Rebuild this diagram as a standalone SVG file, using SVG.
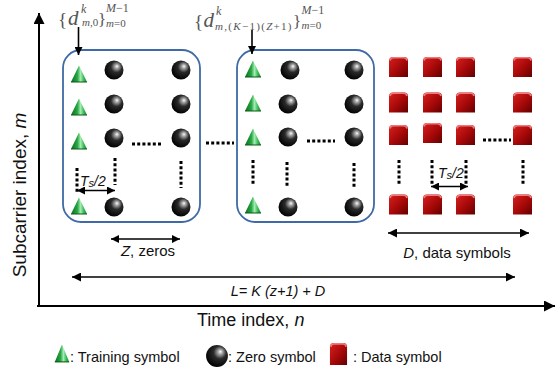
<svg xmlns="http://www.w3.org/2000/svg" xmlns:xlink="http://www.w3.org/1999/xlink" width="555" height="373" viewBox="0 0 555 373">
  <style>
    .sans { font-family: "Liberation Sans", Arial, sans-serif; fill: #111; }
    .math { font-family: "Liberation Serif", "Times New Roman", serif; fill: #555; }
    .it { font-style: italic; }
    .frame { fill: none; stroke: #3f6aa5; stroke-width: 1.8; }
    .dots { stroke: #000; stroke-width: 3; stroke-dasharray: 3 2.2; fill: none; }
    .line { stroke: #000; stroke-width: 1.6; fill: none; }
    .axis { stroke: #000; stroke-width: 2; fill: none; }
  </style>
  <defs>
    <marker id="head" viewBox="0 0 10 10" refX="10" refY="5" markerUnits="userSpaceOnUse" markerWidth="11" markerHeight="9" orient="auto-start-reverse">
      <path d="M0,0 L10,5 L0,10 z" fill="#000"/>
    </marker>
    <marker id="headBig" viewBox="0 0 10 10" refX="10" refY="5" markerUnits="userSpaceOnUse" markerWidth="13" markerHeight="11" orient="auto-start-reverse">
      <path d="M0,0 L10,5 L0,10 z" fill="#000"/>
    </marker>
    <marker id="headSm" viewBox="0 0 10 10" refX="10" refY="5" markerUnits="userSpaceOnUse" markerWidth="9" markerHeight="8" orient="auto-start-reverse">
      <path d="M0,0 L10,5 L0,10 z" fill="#000"/>
    </marker>
    <radialGradient id="sphere" cx="0.6" cy="0.38" r="0.65" fx="0.66" fy="0.3">
      <stop offset="0" stop-color="#ffffff"/>
      <stop offset="0.14" stop-color="#b0b0b0"/>
      <stop offset="0.45" stop-color="#2a2a2a"/>
      <stop offset="1" stop-color="#000"/>
    </radialGradient>
    <linearGradient id="cone" x1="0" y1="0" x2="1" y2="0">
      <stop offset="0" stop-color="#0b6a1e"/>
      <stop offset="0.4" stop-color="#27a843"/>
      <stop offset="0.6" stop-color="#a6ecb4"/>
      <stop offset="0.78" stop-color="#3ec05a"/>
      <stop offset="1" stop-color="#137a27"/>
    </linearGradient>
    <linearGradient id="cube" x1="0" y1="0" x2="1" y2="1">
      <stop offset="0" stop-color="#d82020"/>
      <stop offset="0.55" stop-color="#a50808"/>
      <stop offset="1" stop-color="#640000"/>
    </linearGradient>
    <!-- symbol glyphs, centred on the origin -->
    <g id="ball"><circle r="9.5" fill="url(#sphere)"/></g>
    <g id="tri"><path d="M0,-8.5 L8,8 L-8,8 z" fill="url(#cone)"/><path d="M-8,8 L8,8" stroke="#0a5a18" stroke-width="1"/></g>
    <g id="cubeSym">
      <path d="M-9.5,-6 Q-9.5,-10 -5.5,-10 L5.5,-10 Q9.5,-10 9.5,-6 L9.5,10 L-9.5,10 z" fill="url(#cube)"/>
      <path d="M-8.5,-6.5 Q-8,-9.2 -5,-9.2 L5,-9.2 Q8,-9.2 8.5,-6.5" stroke="#f07a7a" stroke-width="1.6" fill="none"/>
    </g>
  </defs>

  <rect width="555" height="373" fill="#fff"/>

  <!-- axes and labels -->
  <g id="axes">
    <line class="axis" x1="39" y1="306" x2="39" y2="13" marker-end="url(#headBig)"/>
    <line class="axis" x1="37" y1="306" x2="555" y2="306" marker-end="url(#headBig)"/>
    <text class="sans" font-size="19" transform="translate(26,195) rotate(-90)" text-anchor="middle">Subcarrier index,  <tspan class="it">m</tspan></text>
    <text class="sans" font-size="18" x="197" y="326">Time index, <tspan class="it">n</tspan></text>
  </g>

  <!-- first training block -->
  <g id="block1">
    <rect class="frame" x="63" y="50" width="137" height="172" rx="18"/>
    <use href="#tri" x="79" y="74"/>
    <use href="#tri" x="79" y="107"/>
    <use href="#tri" x="79" y="141"/>
    <use href="#tri" x="79" y="206"/>
    <use href="#ball" x="114" y="70"/>
    <use href="#ball" x="181" y="70"/>
    <use href="#ball" x="114" y="104"/>
    <use href="#ball" x="181" y="104"/>
    <use href="#ball" x="114" y="138"/>
    <use href="#ball" x="181" y="138"/>
    <use href="#ball" x="114" y="207"/>
    <use href="#ball" x="181" y="207"/>
    <path class="dots" d="M77,168 V192 M115,158 V185 M181,161 V188"/>
    <path class="dots" d="M132,144 H161"/>
    <text class="sans it" font-size="14" x="80" y="186">T<tspan font-size="11" dy="1">s</tspan><tspan dy="-1">/2</tspan></text>
  </g>

  <path id="gap-dots" class="dots" d="M206,143 H234"/>

  <!-- last training block -->
  <g id="block2">
    <rect class="frame" x="237" y="50" width="137" height="172" rx="18"/>
    <use href="#tri" x="253" y="69"/>
    <use href="#tri" x="253" y="103"/>
    <use href="#tri" x="253" y="137"/>
    <use href="#tri" x="253" y="205"/>
    <use href="#ball" x="290" y="70"/>
    <use href="#ball" x="354" y="70"/>
    <use href="#ball" x="288" y="104"/>
    <use href="#ball" x="354" y="104"/>
    <use href="#ball" x="288" y="137"/>
    <use href="#ball" x="354" y="137"/>
    <use href="#ball" x="288" y="207"/>
    <use href="#ball" x="354" y="207"/>
    <path class="dots" d="M253,160 V186 M287,162 V188 M354,163 V189"/>
    <path class="dots" d="M307,141 H335"/>
  </g>

  <!-- data block -->
  <g id="data">
    <use href="#cubeSym" x="398.5" y="67"/>
    <use href="#cubeSym" x="432.5" y="67"/>
    <use href="#cubeSym" x="465.5" y="67"/>
    <use href="#cubeSym" x="522.5" y="67"/>
    <use href="#cubeSym" x="398.5" y="102.5"/>
    <use href="#cubeSym" x="432.5" y="102.5"/>
    <use href="#cubeSym" x="465.5" y="102.5"/>
    <use href="#cubeSym" x="522.5" y="102.5"/>
    <use href="#cubeSym" x="398.5" y="135"/>
    <use href="#cubeSym" x="432.5" y="133"/>
    <use href="#cubeSym" x="465.5" y="135"/>
    <use href="#cubeSym" x="522.5" y="135"/>
    <use href="#cubeSym" x="398.5" y="204.5"/>
    <use href="#cubeSym" x="432.5" y="204.5"/>
    <use href="#cubeSym" x="465.5" y="204.5"/>
    <use href="#cubeSym" x="522.5" y="204.5"/>
    <path class="dots" d="M399,160 V186 M432,160 V186 M466,160 V186 M523,160 V186"/>
    <path class="dots" d="M483,140 H511"/>
    <text class="sans it" font-size="14" x="438" y="178">T<tspan font-size="11" dy="1">s</tspan><tspan dy="-1">/2</tspan></text>
  </g>

  <!-- pilot labels: each set expression is one text run -->
  <g id="label1">
    <text class="math"><tspan font-size="19" x="58" y="26">{</tspan><tspan class="it" font-size="21" x="68" y="25">d</tspan><tspan class="it" font-size="12" x="81" y="13">k</tspan><tspan font-size="11" x="82" y="26"><tspan class="it">m</tspan>,0</tspan><tspan font-size="17" x="98" y="25">}</tspan><tspan font-size="12" x="106" y="12"><tspan class="it">M</tspan>−1</tspan><tspan font-size="11" x="106" y="27"><tspan class="it">m</tspan>=0</tspan></text>
  </g>
  <g id="label2">
    <text class="math"><tspan font-size="19" x="194" y="28">{</tspan><tspan class="it" font-size="21" x="203.5" y="27">d</tspan><tspan class="it" font-size="12" x="216" y="15">k</tspan><tspan font-size="11" x="215" y="30" letter-spacing="1.3"><tspan class="it">m</tspan>,(<tspan class="it">K</tspan>−1)(<tspan class="it">Z</tspan>+1)</tspan><tspan font-size="17" x="293" y="27">}</tspan><tspan font-size="12" x="301.5" y="14"><tspan class="it">M</tspan>−1</tspan><tspan font-size="11" x="301.5" y="29"><tspan class="it">m</tspan>=0</tspan></text>
  </g>

  <!-- span labels -->
  <g id="span-labels">
    <text class="sans" font-size="15" x="148" y="256" text-anchor="middle"><tspan class="it">Z</tspan>, zeros</text>
    <text class="sans" font-size="15" x="457" y="258" text-anchor="middle"><tspan class="it">D</tspan>, data symbols</text>
    <text class="sans it" font-size="14.5" x="278" y="296" text-anchor="middle">L= K (z+1) + D</text>
  </g>

  <!-- connectors -->
  <g id="connectors">
    <line class="line" x1="78.5" y1="27" x2="78.5" y2="55" marker-end="url(#headSm)"/>
    <line class="line" x1="252" y1="30" x2="252" y2="54" marker-end="url(#headSm)"/>
    <line class="line" x1="77" y1="190.5" x2="115" y2="190.5" marker-start="url(#headSm)" marker-end="url(#headSm)"/>
    <line class="line" x1="431" y1="186.5" x2="468" y2="186.5" marker-start="url(#headSm)" marker-end="url(#headSm)"/>
    <line class="line" stroke="#444" x1="111" y1="239" x2="180" y2="239" marker-start="url(#headSm)" marker-end="url(#headSm)"/>
    <line class="line" x1="388" y1="233" x2="529" y2="233" marker-start="url(#head)" marker-end="url(#head)"/>
    <line class="line" x1="72" y1="277" x2="515" y2="277" marker-start="url(#head)" marker-end="url(#head)"/>
  </g>

  <!-- legend -->
  <g id="legend">
    <use href="#tri" transform="translate(62,353.5) scale(0.9,1.05)"/>
    <text class="sans" font-size="14.5" x="70" y="362">: Training symbol</text>
    <use href="#ball" transform="translate(217,356) scale(1.15)"/>
    <text class="sans" font-size="14.5" x="228" y="362">: Zero symbol</text>
    <use href="#cubeSym" transform="translate(338.5,354) scale(0.9,1.1)"/>
    <text class="sans" font-size="14.5" x="353" y="362">: Data symbol</text>
  </g>
</svg>
